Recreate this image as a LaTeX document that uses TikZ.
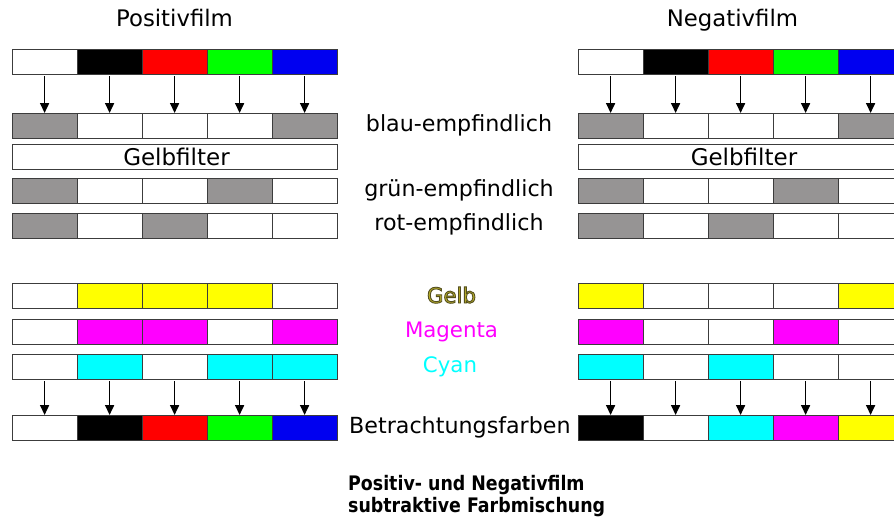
\documentclass[tikz,border=0pt]{standalone}
\usepackage{fontspec}
\setmainfont{DejaVu Sans}
\newfontfamily\footfont[FakeStretch=0.87]{DejaVu Sans Bold}
\usetikzlibrary{arrows.meta}
\definecolor{cgray}{RGB}{150,148,148}
\definecolor{cred}{RGB}{255,0,0}
\definecolor{cgreen}{RGB}{0,255,0}
\definecolor{cblue}{RGB}{0,0,240}
\definecolor{cyel}{RGB}{255,255,0}
\definecolor{cmag}{RGB}{255,0,255}
\definecolor{ccyan}{RGB}{0,255,255}
\definecolor{cblack}{RGB}{0,0,0}
\definecolor{cwhite}{RGB}{255,255,255}
\definecolor{edge}{RGB}{60,60,60}
\definecolor{gelbtext}{RGB}{185,175,40}
\newcommand{\outlinedtext}[1]{\special{pdf:code q 2 Tr 0.9 w 0.33 0.31 0.12 RG}#1\special{pdf:code Q}}
\tikzset{
  cell/.style={draw=edge, line width=1.2pt, minimum width=65pt, minimum height=25pt, inner sep=0pt, anchor=north west},
  filterbar/.style={draw=edge, line width=1.2pt, minimum width=325pt, minimum height=25pt, inner sep=0pt, anchor=north west},
  lbl/.style={anchor=base, inner sep=0pt, font=\fontsize{22.2}{22.2}\selectfont},
  clbl/.style={anchor=base, inner sep=0pt, font=\fontsize{21.3}{21.3}\selectfont},
  gflbl/.style={anchor=base, inner sep=0pt, font=\fontsize{23}{23}\selectfont},
  title/.style={anchor=base, inner sep=0pt, font=\fontsize{22.8}{22.8}\selectfont},
  foot/.style={anchor=base west, inner sep=0pt, font=\footfont\fontsize{20}{20}\selectfont},
  arr/.style={-{Triangle[length=10pt,width=9pt]}, line width=1.7pt, black}
}
\newcommand{\filmrow}[4]{%
  \foreach \c [count=\i] in {#4} {%
    \node[cell, fill=\c] (#1-\i) at ({#2+(\i-1)*65}, #3) {};
  }%
}
\begin{document}
\begin{tikzpicture}[x=1pt,y=-1pt]
\clip (0,0) rectangle (894,519);
\fill[white] (0,0) rectangle (894,519);
% ---------- left (Positivfilm)
\filmrow{LA}{11.5}{49}{cwhite,cblack,cred,cgreen,cblue}
\filmrow{LB}{11.5}{113}{cgray,cwhite,cwhite,cwhite,cgray}
\node[filterbar, fill=white] (LF) at (11.5,144) {};
\filmrow{LC}{11.5}{178}{cgray,cwhite,cwhite,cgray,cwhite}
\filmrow{LD}{11.5}{213}{cgray,cwhite,cgray,cwhite,cwhite}
\filmrow{LE}{11.5}{283}{cwhite,cyel,cyel,cyel,cwhite}
\filmrow{LG}{11.5}{319}{cwhite,cmag,cmag,cwhite,cmag}
\filmrow{LH}{11.5}{354}{cwhite,ccyan,cwhite,ccyan,ccyan}
\filmrow{LI}{11.5}{415}{cwhite,cblack,cred,cgreen,cblue}
% ---------- right (Negativfilm)
\filmrow{RA}{577.5}{49}{cwhite,cblack,cred,cgreen,cblue}
\filmrow{RB}{577.5}{113}{cgray,cwhite,cwhite,cwhite,cgray}
\node[filterbar, fill=white] (RF) at (577.5,144) {};
\filmrow{RC}{577.5}{178}{cgray,cwhite,cwhite,cgray,cwhite}
\filmrow{RD}{577.5}{213}{cgray,cwhite,cgray,cwhite,cwhite}
\filmrow{RE}{577.5}{283}{cyel,cwhite,cwhite,cwhite,cyel}
\filmrow{RG}{577.5}{319}{cmag,cwhite,cwhite,cmag,cwhite}
\filmrow{RH}{577.5}{354}{ccyan,cwhite,ccyan,cwhite,cwhite}
\filmrow{RI}{577.5}{415}{cblack,cwhite,ccyan,cmag,cyel}
% ---------- arrows
\foreach \i in {1,...,5} {
  \draw[arr] ([yshift=-1pt]LA-\i.south) -- (LB-\i.north);
  \draw[arr] ([yshift=-1pt]RA-\i.south) -- (RB-\i.north);
  \draw[arr] ([yshift=-1pt]LH-\i.south) -- (LI-\i.north);
  \draw[arr] ([yshift=-1pt]RH-\i.south) -- (RI-\i.north);
}
% ---------- texts
\node[title] (tpos) at (174.5,27) {Positivfilm};
\node[title] (tneg) at (732.5,27) {Negativfilm};
\node[gflbl] (gfl) at (176.5,165) {Gelbfilter};
\node[gflbl] (gfr) at (744,165) {Gelbfilter};
\node[lbl] (blau) at (459,131) {blau-empfindlich};
\node[lbl] (gruen) at (459,196) {grün-empfindlich};
\node[lbl] (rot) at (459,230) {rot-empfindlich};
\node[clbl, text=gelbtext] (gelb) at (451.5,303) {\outlinedtext{Gelb}};
\node[clbl, text=cmag] (mag) at (451.5,337) {Magenta};
\node[clbl, text=ccyan] (cyan) at (450,372) {Cyan};
\node[lbl, anchor=base west] (betr) at (349,433) {Betrachtungsfarben};
\node[foot] (f1) at (348,490) {Positiv- und Negativfilm};
\node[foot] (f2) at (348,512) {subtraktive Farbmischung};
\end{tikzpicture}
\end{document}
